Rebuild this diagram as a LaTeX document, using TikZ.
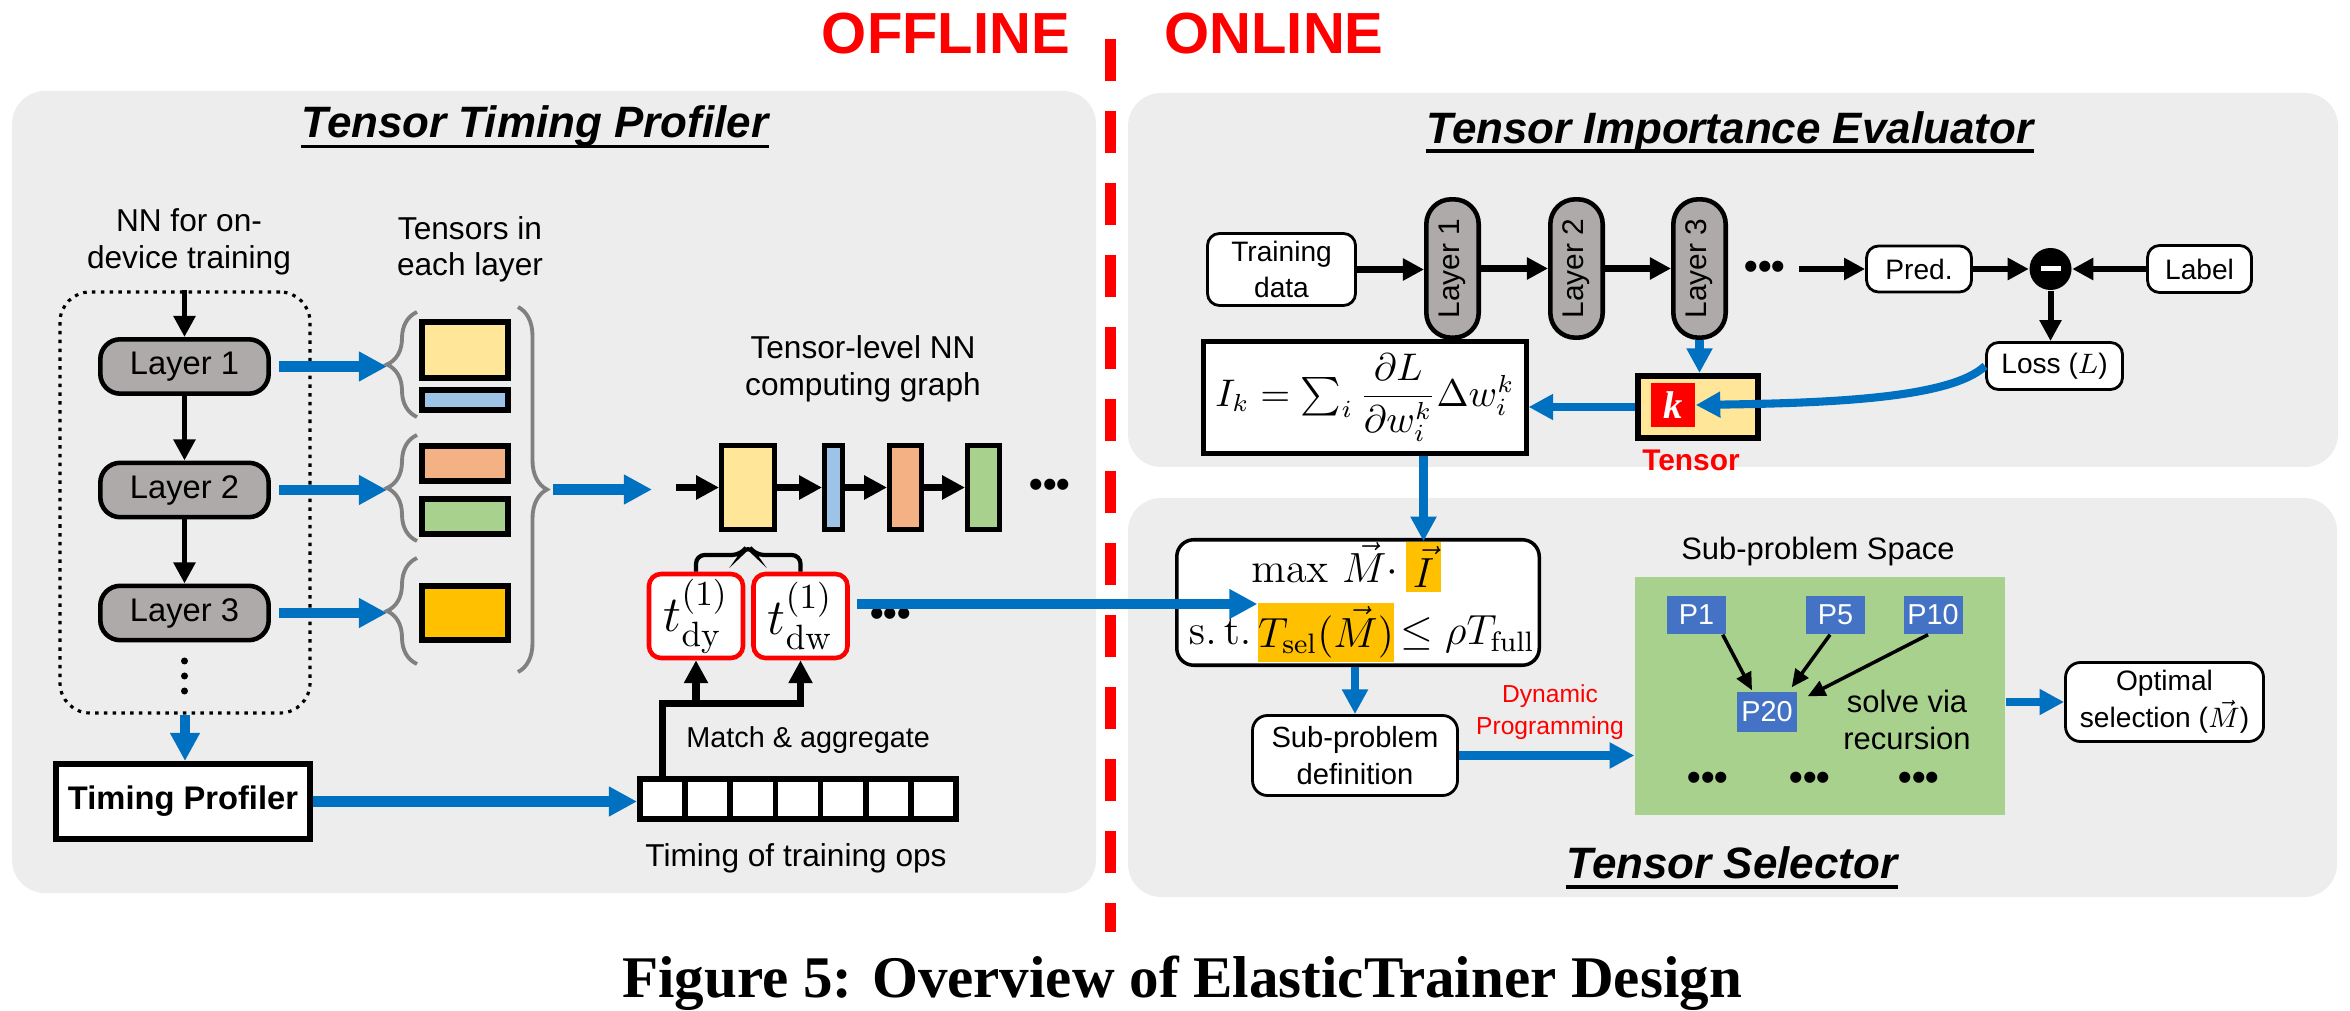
\documentclass[tikz,border=0pt]{standalone}
\usepackage[no-math]{fontspec}
\setmainfont{Liberation Sans}
\newfontfamily\capfont{Liberation Serif}
\usepackage{amsmath}
\usepackage{graphicx}
\usetikzlibrary{arrows.meta,calc,decorations.pathreplacing}

\definecolor{panelgray}{HTML}{EDEDED}
\definecolor{layergray}{HTML}{AEAAAA}
\definecolor{arrowblue}{HTML}{0070C0}
\definecolor{tyellow}{HTML}{FFE699}
\definecolor{tblue}{HTML}{9DC3E6}
\definecolor{torange}{HTML}{F4B183}
\definecolor{tgreen}{HTML}{A9D18E}
\definecolor{tgold}{HTML}{FFC000}
\definecolor{pblue}{HTML}{4472C4}
\definecolor{bracegray}{HTML}{808080}

\begin{document}
\begin{tikzpicture}[
  title/.style={font=\fontsize{12.5}{15}\selectfont\bfseries\itshape, inner sep=0pt, anchor=base},
  lbl/.style={font=\fontsize{9}{10.4}\selectfont, align=center},
  rlbl/.style={font=\fontsize{8.8}{10.5}\selectfont, align=center},
  layer/.style={draw, line width=1.3pt, fill=layergray, rounded corners=0.2cm, minimum width=1.684cm, minimum height=0.544cm, font=\fontsize{9.3}{11}\selectfont},
  rlayer/.style={draw, line width=1.3pt, fill=layergray, rounded corners=0.25cm, minimum width=0.524cm, minimum height=1.384cm, inner sep=0pt, font=\fontsize{8.5}{10}\selectfont},
  tns/.style={draw, line width=1.6pt, minimum width=0.864cm, inner sep=0pt},
  gnode/.style={draw, line width=1.4pt, minimum height=0.84cm, inner sep=0pt},
  tb/.style={draw=red, line width=1.3pt, fill=white, rounded corners=0.12cm, minimum width=0.94cm, minimum height=0.84cm, inner sep=0pt, font=\fontsize{14}{16}\selectfont},
  cell/.style={draw, line width=1.6pt, fill=white, minimum width=0.452cm, minimum height=0.404cm, inner sep=0pt},
  rb/.style={draw, line width=0.8pt, fill=white, rounded corners=0.12cm, inner sep=1pt, align=center, font=\fontsize{8}{10}\selectfont},
  pbox/.style={fill=pblue, text=white, minimum width=0.59cm, minimum height=0.38cm, inner sep=0pt, font=\fontsize{8.2}{10}\selectfont},
  mth/.style={inner sep=0pt, font=\fontsize{11.5}{13}\selectfont},
  barrow/.style={draw=arrowblue, line width=2.9pt, -{Triangle[length=8pt,width=8pt]}},
  barrow2/.style={draw=arrowblue, line width=2.3pt, -{Triangle[length=7pt,width=7pt]}},
  karrow/.style={line width=1.5pt, -{Triangle[length=6pt,width=6pt]}},
  garrow/.style={line width=2pt, -{Triangle[length=6.5pt,width=6.5pt]}},
  parrow/.style={line width=1pt, -{Triangle[length=5pt,width=4.5pt]}},
  brc/.style={draw=bracegray, line width=1.1pt, decorate, decoration={brace, amplitude=0.3cm}},
  dots/.style={font=\fontsize{11}{11}\selectfont\bfseries, inner sep=0pt}
]
\useasboundingbox (0,0) rectangle (23.5,-10.11);

% panels
\fill[panelgray, rounded corners=0.33cm] (0.12,-0.91) rectangle (10.96,-8.93);
\fill[panelgray, rounded corners=0.33cm] (11.28,-0.93) rectangle (23.38,-4.67);
\fill[panelgray, rounded corners=0.33cm] (11.28,-4.98) rectangle (23.37,-8.97);

% offline / online
\node[anchor=base, red, font=\fontsize{16.5}{18}\selectfont\bfseries] (OFF) at (9.46,-0.54) {OFFLINE};
\node[anchor=base, red, font=\fontsize{16.5}{18}\selectfont\bfseries] (ON) at (12.74,-0.54) {ONLINE};
\draw[red, line width=3.1pt, dash pattern=on 0.42cm off 0.30cm] (11.105,-0.39) -- (11.105,-9.32);

% titles
\node[title] (TTP) at (5.35,-1.375) {Tensor Timing Profiler};
\draw[line width=1.1pt] ($(TTP.base west)+(0,-0.09)$) -- ($(TTP.base east)+(0,-0.09)$);
\node[title] (TIE) at (17.30,-1.433) {Tensor Importance Evaluator};
\draw[line width=1.1pt] ($(TIE.base west)+(0,-0.08)$) -- ($(TIE.base east)+(0,-0.08)$);
\node[title] (TSL) at (17.32,-8.786) {Tensor Selector};
\draw[line width=1.1pt] ($(TSL.base west)+(0,-0.08)$) -- ($(TSL.base east)+(0,-0.08)$);

%%% Tensor Timing Profiler
\node[lbl] (NNL) at (1.89,-2.42) {NN for on-\\device training};
\node[lbl] (TIL) at (4.70,-2.495) {Tensors in\\each layer};

\node[draw, line width=0.9pt, dash pattern=on 1pt off 1.5pt, rounded corners=0.3cm, minimum width=2.5cm, minimum height=4.21cm] (NN) at (1.85,-5.025) {};
\node[layer] (L1) at (1.845,-3.665) {Layer 1};
\node[layer] (L2) at (1.845,-4.90) {Layer 2};
\node[layer] (L3) at (1.845,-6.13) {Layer 3};
\fill (1.845,-6.61) circle (0.035) (1.845,-6.76) circle (0.035) (1.845,-6.91) circle (0.035);

\draw[karrow] (NN.north -| L1.north) -- (L1.north);
\draw[karrow] (L1) -- (L2);
\draw[karrow] (L2) -- (L3);

\draw[barrow] ($(L1.east)+(0.08,0)$) -- ($(L1.east)+(1.16,0)$);
\draw[barrow] ($(L2.east)+(0.08,0)$) -- ($(L2.east)+(1.16,0)$);
\draw[barrow] ($(L3.east)+(0.08,0)$) -- ($(L3.east)+(1.16,0)$);

\node[tns, fill=tyellow, minimum height=0.564cm] (Y1) at (4.65,-3.50) {};
\node[tns, fill=tblue, minimum height=0.204cm] (B1) at (4.65,-4.00) {};
\node[tns, fill=torange, minimum height=0.354cm] (O2) at (4.65,-4.635) {};
\node[tns, fill=tgreen, minimum height=0.354cm] (G2) at (4.65,-5.165) {};
\node[tns, fill=tgold, minimum height=0.544cm] (D3) at (4.65,-6.13) {};

\draw[brc] (4.17,-4.17) -- (4.17,-3.12);
\draw[brc] (4.17,-5.41) -- (4.17,-4.35);
\draw[brc] (4.17,-6.64) -- (4.17,-5.58);
\draw[brc, decoration={amplitude=0.29cm}] (5.18,-3.07) -- (5.18,-6.72);
\coordinate (BR) at (5.47,-4.895);
\draw[barrow] ($(BR)+(0.06,0)$) -- ($(BR)+(1.05,0)$);

\node[lbl] (TLG) at (8.63,-3.69) {Tensor-level NN\\computing graph};
\node[gnode, fill=tyellow, minimum width=0.53cm] (GY) at (7.48,-4.875) {};
\node[gnode, fill=tblue, minimum width=0.18cm] (GB) at (8.335,-4.875) {};
\node[gnode, fill=torange, minimum width=0.32cm] (GO) at (9.055,-4.875) {};
\node[gnode, fill=tgreen, minimum width=0.32cm] (GG) at (9.835,-4.875) {};
\node[dots] (GD) at (10.50,-4.88) {•••};
\draw[garrow] ($(GY.west)+(-0.43,0)$) -- (GY.west);
\draw[garrow] (GY) -- (GB);
\draw[garrow] (GB) -- (GO);
\draw[garrow] (GO) -- (GG);

\node[tb] (TDY) at (6.96,-6.16) {$t^{(1)}_{\mathrm{dy}}$};
\node[tb] (TDW) at (8.005,-6.16) {$t^{(1)}_{\mathrm{dw}}$};
\node[dots] (TD3) at (8.905,-6.17) {•••};
\coordinate (BT) at ($(GY.south)+(0,-0.13)$);
\draw[line width=1.2pt, rounded corners=2.5pt] (TDY.north) |- ($(BT)+(-0.07,-0.10)$) -- (BT) -- ($(BT)+(0.07,-0.10)$) -| (TDW.north);

\foreach \i in {1,...,7}
  \node[cell] (C\i) at ({6.172+0.452*\i},-7.99) {};
\draw[garrow] (C1.north) |- ($(TDW.south)+(0,-0.43)$) -- (TDW.south);
\draw[garrow] ($(TDY.south)+(0,-0.44)$) -- (TDY.south);
\node[lbl, anchor=west, font=\fontsize{8.2}{10}\selectfont] (MAG) at (6.74,-7.40) {Match \& aggregate};
\node[lbl] (TOP) at (7.96,-8.58) {Timing of training ops};

\node[draw, line width=1.7pt, fill=white, minimum width=2.48cm, minimum height=0.75cm, font=\fontsize{9.3}{11}\selectfont\bfseries] (TP) at (1.83,-8.015) {Timing Profiler};
\draw[barrow] (NN.south) -- (NN.south |- TP.north);
\draw[barrow] (TP.east) -- (TP.east -| C1.west);

%%% Tensor Importance Evaluator
\node[rb, minimum width=1.48cm, minimum height=0.72cm] (TD) at (12.815,-2.695) {Training\\data};
\node[rlayer] (RL1) at (14.525,-2.685) {\rotatebox{90}{Layer 1}};
\node[rlayer] (RL2) at (15.765,-2.685) {\rotatebox{90}{Layer 2}};
\node[rlayer] (RL3) at (16.995,-2.685) {\rotatebox{90}{Layer 3}};
\node[dots] (RD) at (17.65,-2.70) {•••};
\node[rb, minimum width=1.05cm, minimum height=0.46cm] (PR) at (19.19,-2.69) {Pred.};
\node[circle, fill=black, minimum size=0.42cm, inner sep=0pt] (MN) at (20.505,-2.69) {};
\fill[white] ($(MN)+(-0.10,-0.025)$) rectangle ($(MN)+(0.10,0.025)$);
\node[rb, minimum width=1.04cm, minimum height=0.47cm] (LB) at (21.995,-2.69) {Label};
\node[rb, minimum width=1.36cm, minimum height=0.47cm] (LS) at (20.545,-3.66) {Loss ($L$)};

\draw[karrow, line width=1.9pt] (TD.east) -- (TD.east -| RL1.west);
\draw[karrow, line width=1.9pt] (RL1) -- (RL2);
\draw[karrow, line width=1.9pt] (RL2) -- (RL3);
\draw[karrow, line width=1.9pt] ($(PR.west)+(-0.66,0)$) -- (PR.west);
\draw[karrow, line width=1.7pt] (PR) -- (MN);
\draw[karrow, line width=1.7pt] (LB) -- (MN);
\draw[karrow, line width=1.7pt] (MN.south) -- (MN.south |- LS.north);

\node[draw, line width=1.3pt, fill=white, minimum width=2.71cm, minimum height=0.945cm, font=\fontsize{10.5}{12}\selectfont] (IK) at (13.65,-3.975)
  {$I_k=\sum_i \dfrac{\partial L}{\partial w_i^k}\Delta w_i^k$};
\node[draw, line width=1.6pt, fill=tyellow, minimum width=1.204cm, minimum height=0.624cm] (TK) at (16.98,-4.07) {};
\node[fill=red, text=white, minimum size=0.44cm, inner sep=0pt, font=\capfont\fontsize{11}{12}\selectfont\bfseries\itshape] (K) at (16.73,-4.05) {k};
\node[red, font=\fontsize{8.5}{10}\selectfont\bfseries] (TKL) at (16.91,-4.60) {Tensor};

\draw[barrow2] (RL3.south) -- (RL3.south |- TK.north);
\draw[barrow2] (TK.west) -- (TK.west -| IK.east);
\draw[barrow2] (LS.west) .. controls +(-0.35,-0.33) and +(1.3,0.02) .. (K.east);

%%% Tensor Selector
\node[draw, line width=1pt, fill=white, rounded corners=0.17cm, minimum width=3.625cm, minimum height=1.255cm] (MX) at (13.58,-6.025) {};
\node[mth, fill=tgold, minimum width=0.35cm, minimum height=0.50cm] (HI) at (14.235,-5.67) {$\vec{I}$};
\node[mth, fill=tgold, minimum width=1.34cm, minimum height=0.59cm] (TS) at (13.26,-6.325) {$T_{\mathrm{sel}}(\vec{M})$};
\node[mth, anchor=base east] (MXT) at (13.99,-5.83) {$\max\,\vec{M}\cdot$};
\node[mth, anchor=base east] (ST) at (12.52,-6.45) {$\mathrm{s.\,t.}$};
\node[mth, anchor=base west] (LE) at (14.00,-6.45) {$\le \rho T_{\mathrm{full}}$};

\draw[barrow2] (IK.south -| HI.north) -- (HI.north);
\coordinate (TO) at ($(TDW.east)+(0.07,0.12)$);
\draw[barrow] (TO) -- (TO -| TS.west);

\node[rb, minimum width=2.05cm, minimum height=0.80cm, rounded corners=0.15cm, font=\fontsize{8.3}{10.5}\selectfont] (SP) at (13.55,-7.555) {Sub-problem\\definition};
\draw[barrow2] (SP.north |- MX.south) -- (SP.north);
\node[red, align=center, font=\fontsize{7}{9}\selectfont] (DP) at (15.50,-7.12) {Dynamic\\Programming};

\node[fill=tgreen, minimum width=3.70cm, minimum height=2.38cm, inner sep=0pt] (GR) at (18.20,-6.96) {};
\draw[barrow2] (SP.east) -- (SP.east -| GR.west);
\node[rlbl] (SPS) at (18.18,-5.52) {Sub-problem Space};
\node[pbox] (P1) at (16.965,-6.15) {P1};
\node[pbox] (P5) at (18.355,-6.15) {P5};
\node[pbox] (P10) at (19.33,-6.15) {P10};
\node[pbox, minimum width=0.60cm, minimum height=0.40cm] (P20) at (17.67,-7.12) {P20};
\draw[parrow] ($(P1.south east)+(-0.04,0)$) -- ($(P20.north)+(-0.15,0.01)$);
\draw[parrow] ($(P5.south)+(-0.055,0)$) -- ($(P20.north east)+(-0.06,0.04)$);
\draw[parrow] ($(P10.south)+(-0.05,0)$) -- ($(P20.north east)+(0.10,-0.05)$);
\node[rlbl] (SV) at (19.07,-7.20) {solve via\\recursion};
\node[dots] (GD1) at (17.08,-7.81) {•••};
\node[dots] (GD2) at (18.10,-7.81) {•••};
\node[dots] (GD3) at (19.19,-7.81) {•••};

\node[rb, minimum width=1.98cm, minimum height=0.79cm, rounded corners=0.15cm, font=\fontsize{8}{10.5}\selectfont] (OP) at (21.645,-7.02) {Optimal\\selection ($\vec{M}$)};
\draw[barrow2] (GR.east |- OP.west) -- (OP.west);

% caption
\node[anchor=base, font=\capfont\fontsize{16.8}{20}\selectfont\bfseries] (CAP) at (11.82,-9.97) {Figure 5: Overview of ElasticTrainer Design};
\end{tikzpicture}
\end{document}
